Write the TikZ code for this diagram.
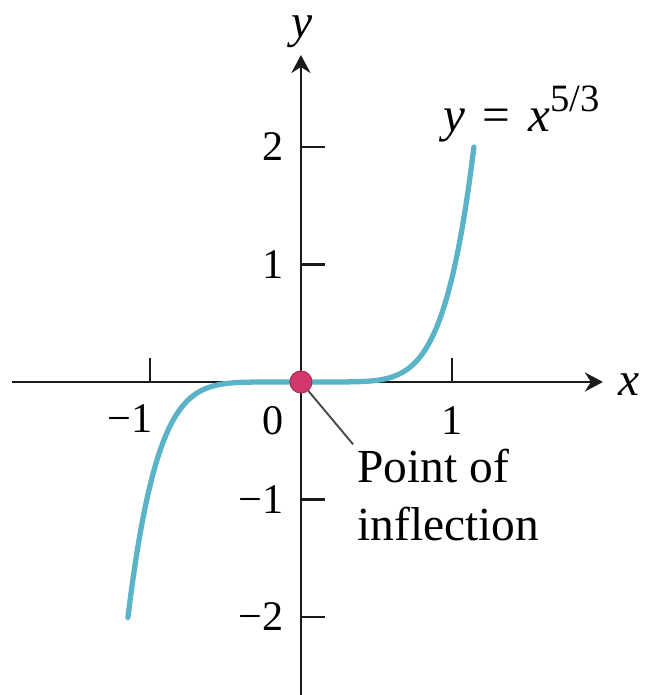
\documentclass[tikz,border=0pt]{standalone}
\usepackage{fontspec}
\setmainfont{Liberation Serif}
\usetikzlibrary{arrows.meta,positioning}
\definecolor{curveblue}{HTML}{5BB3C8}
\definecolor{inflred}{HTML}{D2386A}
\definecolor{pointergray}{HTML}{4A4A4A}
\definecolor{axisblack}{HTML}{1A1A1A}

\begin{document}
\begin{tikzpicture}[x=3.02cm, y=2.35cm,
  axisline/.style={line width=1.6pt, draw=axisblack, -{Stealth[length=3.6mm, width=3.8mm, inset=1.2mm]}},
  tickmark/.style={line width=1.4pt, draw=axisblack},
  ticklabel/.style={inner sep=0pt, font=\fontsize{24}{28}\selectfont},
  axislabel/.style={inner sep=0pt, font=\fontsize{27}{33}\selectfont\itshape},
  curveline/.style={line width=3pt, draw=curveblue, line cap=round},
  dot/.style={circle, fill=inflred, draw=inflred!80!black, line width=0.6pt, minimum size=4.4mm, inner sep=0pt},
  callout/.style={line width=1.1pt, draw=pointergray},
  notetext/.style={inner sep=0pt, align=left, font=\fontsize{27}{33}\selectfont}
]
\useasboundingbox (-1.993,-2.664) rectangle (2.278,3.251);
% axes
\coordinate (xleft) at (-1.914,0);
\coordinate (xright) at (2.0,0);
\coordinate (ybottom) at (0,-2.664);
\coordinate (ytop) at (0,2.783);
\draw[axisline] (xleft) -- (xright);
\draw[axisline] (ybottom) -- (ytop);
\node[axislabel, anchor=base west] (xlabel) at (2.099,-0.111) {x};
\node[axislabel, anchor=base] (ylabel) at (0.005,2.936) {y};
% ticks
\draw[tickmark] (-1,0) -- ++(0,0.48cm);
\draw[tickmark] (1,0) -- ++(0,0.48cm);
\draw[tickmark] (0,2) -- ++(0.48cm,0);
\draw[tickmark] (0,1) -- ++(0.48cm,0);
\draw[tickmark] (0,-1) -- ++(0.48cm,0);
\draw[tickmark] (0,-2) -- ++(0.48cm,0);
\node[ticklabel, anchor=base] (xm1) at (-1.132,-0.434) {−1};
\node[ticklabel, anchor=base] (x0) at (-0.182,-0.443) {0};
\node[ticklabel, anchor=base] (x1) at (1.0,-0.443) {1};
\node[ticklabel, anchor=east] (y2) at ([xshift=-3.4mm]0,2) {2};
\node[ticklabel, anchor=east] (y1) at ([xshift=-3.4mm]0,1) {1};
\node[ticklabel, anchor=east] (ym1) at ([xshift=-3.4mm]0,-1) {−1};
\node[ticklabel, anchor=east] (ym2) at ([xshift=-3.4mm]0,-2) {−2};
% curve
\draw[curveline] plot[domain=-1.146:1.146, samples=120, smooth] (\x, {0.885*\x*\x*\x*\x*\x*abs(\x)});
\node[inner sep=0pt, anchor=base west, font=\fontsize{28}{34}\selectfont] (eqn) at (0.940,2.128)
  {\textit{y}\hspace{0.36em}=\hspace{0.36em}\textit{x}\raisebox{0.42em}{\fontsize{22}{26}\selectfont 5/3}};
% point of inflection
\node[dot] (infl) at (0,0) {};
\node[notetext, anchor=north west] (infltext) at (0.371,-0.570) {Point of\\inflection};
\draw[callout, shorten >=1.2mm] (infl) -- (infltext.north west);
\end{tikzpicture}
\end{document}
